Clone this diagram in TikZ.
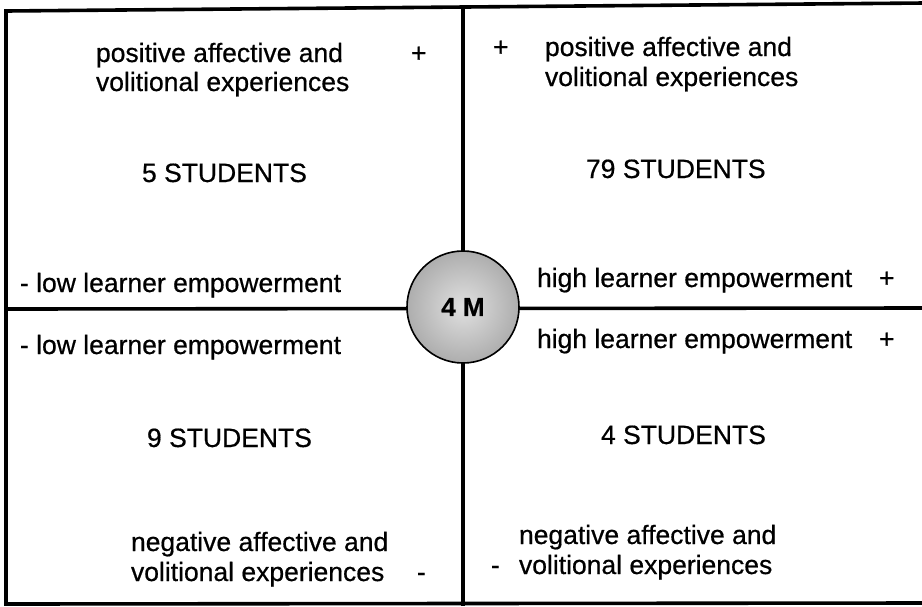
\documentclass[tikz,border=0pt]{standalone}
\usepackage{fontspec}
\setmainfont[FakeBold=0.6]{Liberation Sans}
\newfontfamily\plainsans[FakeBold=0.6]{Liberation Sans}
\begin{document}
\begin{tikzpicture}[x=1pt,y=-1pt,
  txt/.style={anchor=base west, inner sep=0pt, outer sep=0pt, font=\plainsans\fontsize{26.5}{30}\selectfont},
  frameline/.style={line width=3.6pt, line cap=rect},
  hub/.style={circle, draw, line width=1.6pt, minimum size=112pt, inner sep=0pt,
     inner color=black!12, outer color=black!32, font=\fontsize{26}{30}\selectfont\bfseries}]
\useasboundingbox (0,0) rectangle (922,606);
\fill[white] (0,0) rectangle (922,606);
% frame corners and divider ends
\coordinate (tl) at (6,11);
\coordinate (tr) at (924,3);
\coordinate (bl) at (6,604);
\coordinate (br) at (924,603);
\coordinate (vt) at (463,8);
\coordinate (vb) at (463,604);
\coordinate (hl) at (6,309);
\coordinate (hr) at (924,308);
\draw[frameline] (tr) -- (tl) -- (bl) -- (br);
\draw[frameline] (vt) -- (vb);
\draw[frameline] (hl) -- (hr);
\node[hub] (hubnode) at (463,307) {4 M};
% top-left quadrant
\node[txt] (tl1) at (96,62) {positive affective and};
\node[txt] (tl2) at (96,91) {volitional experiences};
\node[txt] (tlplus) at (411,62) {+};
\node[txt] (tlcount) at (142,182) {5 STUDENTS};
\node[txt] (tllow) at (20,292) {- low learner empowerment};
% top-right quadrant
\node[txt] (trplus) at (493,56) {+};
\node[txt] (tr1) at (545,56) {positive affective and};
\node[txt] (tr2) at (545,86) {volitional experiences};
\node[txt] (trcount) at (586,178) {79 STUDENTS};
\node[txt] (trhigh) at (537,287) {high learner empowerment};
\node[txt] (trhighplus) at (879,287) {+};
% bottom-left quadrant
\node[txt] (bllow) at (20,354) {- low learner empowerment};
\node[txt] (blcount) at (147,447) {9 STUDENTS};
\node[txt] (bl1) at (131,551) {negative affective and};
\node[txt] (bl2) at (131,581) {volitional experiences};
\node[txt] (blminus) at (417,581) {-};
% bottom-right quadrant
\node[txt] (brhigh) at (537,348) {high learner empowerment};
\node[txt] (brhighplus) at (879,348) {+};
\node[txt] (brcount) at (601,444) {4 STUDENTS};
\node[txt] (br1) at (519,544) {negative affective and};
\node[txt] (br2) at (519,574) {volitional experiences};
\node[txt] (brminus) at (491,574) {-};
\end{tikzpicture}
\end{document}
